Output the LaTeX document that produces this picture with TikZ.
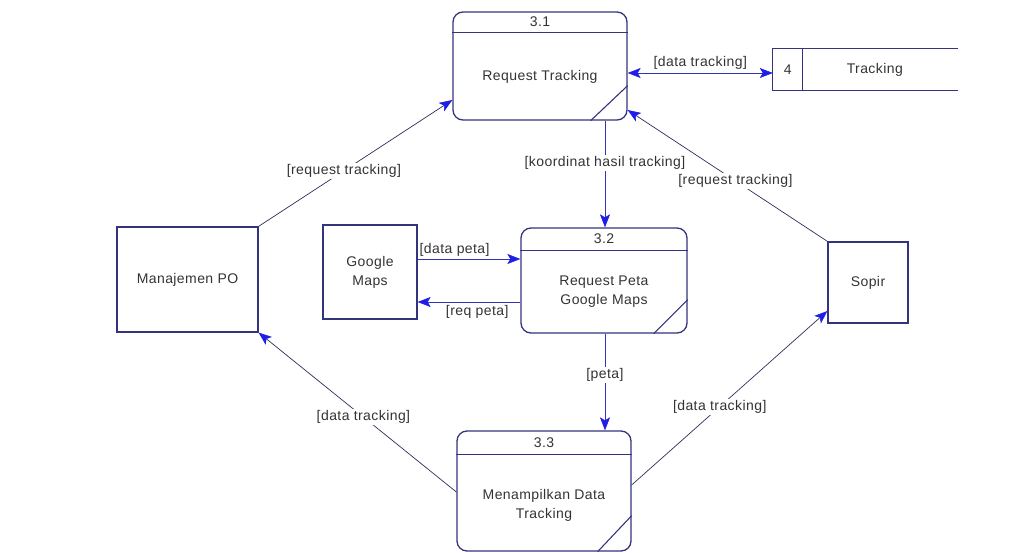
\documentclass[tikz,border=0pt]{standalone}
\usepackage{fontspec}
\setmainfont{Liberation Sans}[LetterSpace=3]
\usetikzlibrary{arrows.meta,calc}
\definecolor{boxline}{HTML}{34347E}
\definecolor{flowline}{HTML}{3434B4}
\definecolor{diagline}{HTML}{2E2E58}
\definecolor{tipblue}{HTML}{1E1EE6}
\definecolor{txt}{HTML}{333333}
\begin{document}
\begin{tikzpicture}[x=1pt,y=-1pt,
  font=\fontsize{14}{19}\selectfont, text=txt,
  >={Stealth[length=13pt,width=10pt,inset=3pt,color=tipblue,fill=tipblue,line width=0.6pt]},
  proc/.style={draw=boxline, line width=1.3pt, rounded corners=10pt, inner sep=0pt},
  ent/.style={draw=boxline, line width=1.3pt, inner sep=0pt, align=center},
  sepline/.style={draw=boxline, line width=1.1pt},
  txtnode/.style={inner sep=0pt, align=center},
  flow/.style={draw=flowline, line width=0.9pt, ->},
  dflow/.style={draw=diagline, line width=0.7pt, ->},
  lbl/.style={fill=white, inner sep=1.5pt}]
\useasboundingbox (0,0) rectangle (1010,553);

% processes
\node[proc, minimum width=174pt, minimum height=108pt] (p31) at (540,66) {};
\draw[sepline] ([yshift=-21pt]p31.north west) -- ([yshift=-21pt]p31.north east);
\draw[sepline] ([xshift=-37pt]p31.south east) -- ([yshift=35pt]p31.south east);
\node[txtnode] (p31n) at ($(p31.north)+(0,10.5)$) {3.1};
\node[txtnode] (p31t) at ($(p31.center)+(0,11)$) {Request Tracking};

\node[proc, minimum width=166pt, minimum height=105pt] (p32) at (604,280.5) {};
\draw[sepline] ([yshift=-23pt]p32.north west) -- ([yshift=-23pt]p32.north east);
\draw[sepline] ([xshift=-34pt]p32.south east) -- ([yshift=34pt]p32.south east);
\node[txtnode] (p32n) at ($(p32.north)+(0,11.5)$) {3.2};
\node[txtnode] (p32t) at ($(p32.center)+(0,11.5)$) {Request Peta\\Google Maps};

\node[proc, minimum width=174pt, minimum height=120pt] (p33) at (544,491) {};
\draw[sepline] ([yshift=-24pt]p33.north west) -- ([yshift=-24pt]p33.north east);
\draw[sepline] ([xshift=-34pt]p33.south east) -- ([yshift=36pt]p33.south east);
\node[txtnode] (p33n) at ($(p33.north)+(0,12)$) {3.3};
\node[txtnode] (p33t) at ($(p33.center)+(0,14)$) {Menampilkan Data\\Tracking};

% external entities
\node[ent, minimum width=141pt, minimum height=105pt] (pm) at (187.5,279.5) {Manajemen PO};
\node[ent, minimum width=94pt, minimum height=94pt] (gm) at (370,272) {Google\\Maps};
\node[ent, minimum width=80pt, minimum height=81pt] (sp) at (868,282.5) {Sopir};

% data store
\node[inner sep=0pt, minimum width=185pt, minimum height=41pt] (ds) at (865.5,69.5) {};
\draw[sepline] (ds.north east) -- (ds.north west) -- (ds.south west) -- (ds.south east);
\draw[sepline] ([xshift=30pt]ds.north west) -- ([xshift=30pt]ds.south west);
\node[txtnode] (dsn) at ($(ds.west)+(15,0)$) {4};
\node[txtnode] (dst) at ($(ds.west)+(102,0)$) {Tracking};

% data flows
\draw[dflow] (pm.north east) -- node[lbl, pos=0.44] {[request tracking]} ([yshift=-34pt]p31.west);
\draw[draw=flowline, line width=0.9pt, <->] ([yshift=-7pt]p31.east) --
  node[above=2pt, inner sep=1pt] {[data tracking]} ([yshift=-7pt]p31.east -| ds.west);
\draw[flow] ([xshift=65pt]p31.south) --
  node[lbl, pos=0.4] {[koordinat hasil tracking]} ([xshift=65pt]p31.south |- p32.north);
\draw[dflow] (sp.north west) -- node[lbl, pos=0.46] {[request tracking]} ([yshift=-44pt]p31.east);
\draw[flow] ([yshift=13pt]gm.east) --
  node[above=1pt, inner sep=1pt, pos=0.36] {[data peta]} ([yshift=13pt]gm.east -| p32.west);
\draw[flow] ([yshift=-30pt]gm.east -| p32.west) --
  node[below=2pt, inner sep=1pt, pos=0.42] {[req peta]} ([yshift=-30pt]gm.east);
\draw[flow] ([xshift=1pt]p32.south) --
  node[lbl, pos=0.43] {[peta]} ([xshift=1pt]p32.south |- p33.north);
\draw[dflow] ([yshift=-1pt]p33.west) -- node[lbl, pos=0.47] {[data tracking]} (pm.south east);
\draw[dflow] ([yshift=6pt]p33.east) -- node[lbl, pos=0.45] {[data tracking]} ([yshift=-28.5pt]sp.west);
\end{tikzpicture}
\end{document}
